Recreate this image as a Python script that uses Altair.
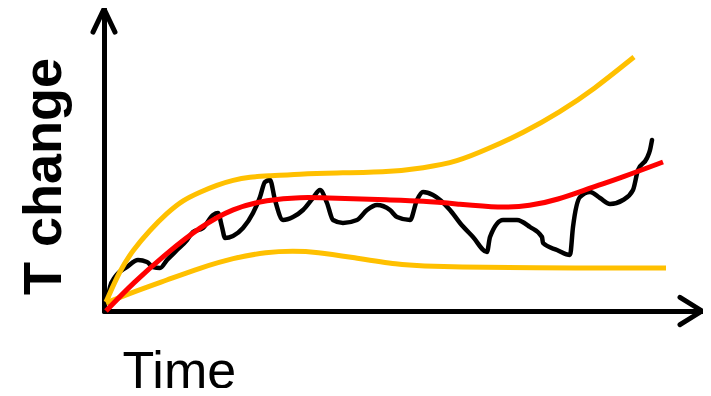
import altair as alt
import pandas as pd

# Values (time and temperature change in arbitrary units)
upper_t = [2, 16, 29, 46, 63, 79, 96, 113, 129, 146, 163, 196, 229, 286, 319, 353, 386, 419, 456, 489, 530]
upper_v = [9, 41, 61, 81, 98, 111, 119, 126, 131, 134, 135, 137, 138, 139, 143, 149, 163, 178, 199, 221, 254]

lower_t = [2, 29, 63, 96, 129, 163, 189, 213, 246, 296, 319, 353, 419, 562]
lower_v = [8, 19, 31, 43, 53, 59, 60, 59, 54, 46, 45, 44, 43, 43]

trend_t = [2, 29, 63, 96, 129, 163, 196, 229, 286, 319, 353, 396, 426, 453, 486, 519, 559]
trend_v = [0, 28, 58, 84, 103, 111, 114, 113, 111, 110, 107, 103, 105, 111, 123, 134, 149]

obs_t = [3, 6, 11, 23, 34, 43, 49, 56, 63, 73, 83, 89, 99, 109, 114, 118, 121, 129, 139, 149,
         156, 161, 166, 171, 179, 189, 199, 209, 216, 223, 229, 239, 253, 263, 273, 286, 293, 306, 313, 319,
         329, 346, 356, 369, 383, 386, 399, 413, 426, 438, 439, 453, 466, 469, 476, 486, 496, 506, 519, 529,
         534, 543, 546, 548]
obs_v = [8, 24, 34, 44, 51, 49, 44, 43, 51, 61, 71, 79, 83, 96, 98, 84, 73, 75, 83, 98,
         114, 129, 131, 111, 91, 94, 101, 113, 121, 108, 91, 88, 91, 101, 106, 101, 94, 91, 111, 119,
         116, 101, 88, 74, 59, 74, 91, 91, 84, 74, 68, 61, 56, 84, 114, 119, 113, 107, 111, 121,
         141, 153, 161, 171]

X_MAX = 598
Y_MAX = 302

FONT = "Liberation Sans"

axis_x = alt.Axis(
    title="Time", ticks=False, labels=False, grid=False,
    domainColor="black", domainWidth=5, domainCap="round",
    titleFont=FONT, titleFontSize=52, titleFontWeight="normal", titleColor="black",
    titleX=18, titleY=76, titleAlign="left", titleBaseline="alphabetic",
)
axis_y = alt.Axis(
    title="T change", ticks=False, labels=False, grid=False,
    domainColor="black", domainWidth=5, domainCap="round",
    titleFont=FONT, titleFontSize=54, titleFontWeight="bold", titleColor="black",
    titleAngle=270, titleX=-44, titleY=167, titleAlign="center", titleBaseline="alphabetic",
)

xs = alt.Scale(domain=[0, X_MAX], nice=False, zero=False)
ys = alt.Scale(domain=[0, Y_MAX], nice=False, zero=False)


def enc(chart):
    return chart.encode(
        x=alt.X("t:Q", scale=xs, axis=axis_x),
        y=alt.Y("v:Q", scale=ys, axis=axis_y),
    )


obs = enc(alt.Chart(pd.DataFrame({"t": obs_t, "v": obs_v})).mark_line(
    color="black", strokeWidth=4.5, interpolate="monotone", strokeCap="round", strokeJoin="round"))
upper = enc(alt.Chart(pd.DataFrame({"t": upper_t, "v": upper_v})).mark_line(
    color="#FFC000", strokeWidth=5, interpolate="basis", strokeCap="butt"))
lower = enc(alt.Chart(pd.DataFrame({"t": lower_t, "v": lower_v})).mark_line(
    color="#FFC000", strokeWidth=5, interpolate="basis", strokeCap="butt"))
trend = enc(alt.Chart(pd.DataFrame({"t": trend_t, "v": trend_v})).mark_line(
    color="#FF0000", strokeWidth=5, interpolate="basis", strokeCap="butt"))

arrow_right = enc(alt.Chart(pd.DataFrame({"t": [X_MAX], "v": [0]})).mark_point(
    shape="M-1,-0.62L0,0L-1,0.62", filled=False, size=1936, strokeWidth=5,
    color="black", opacity=1, strokeCap="round", strokeJoin="round"))
arrow_up = enc(alt.Chart(pd.DataFrame({"t": [0], "v": [Y_MAX]})).mark_point(
    shape="M-0.5,1.05L0,0L0.5,1.05", filled=False, size=1936, strokeWidth=5,
    color="black", opacity=1, strokeCap="round", strokeJoin="round"))

chart = alt.layer(obs, upper, lower, trend, arrow_right, arrow_up).properties(
    width=X_MAX, height=Y_MAX,
    autosize=alt.AutoSizeParams(type="none"),
    padding={"left": 96, "top": 1, "right": 1, "bottom": 77},
    background="white",
).configure_view(stroke=None)

chart.save("out.html", embed_options={"renderer": "svg", "actions": False})
